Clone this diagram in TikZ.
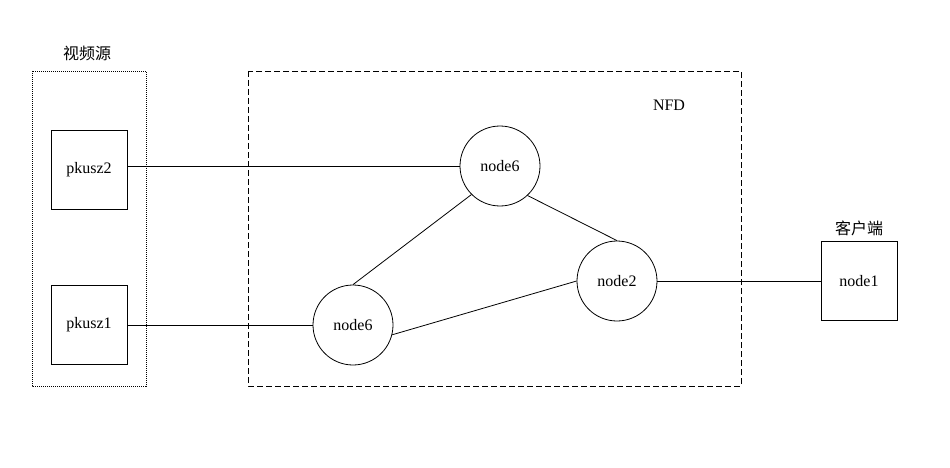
\documentclass[tikz,border=0pt]{standalone}
\usepackage{fontspec}
\setmainfont{Liberation Serif}
\newfontfamily\cjk{Noto Sans CJK SC}
\begin{document}
\begin{tikzpicture}[x=1pt,y=-1pt,
  every node/.style={font=\fontsize{16}{18}\selectfont},
  hostbox/.style={draw,line width=0.8pt,minimum width=76pt,minimum height=79pt,inner sep=0pt},
  router/.style={draw,circle,line width=0.8pt,minimum size=80pt,inner sep=0pt},
  link/.style={line width=0.8pt},
  grouplabel/.style={font=\cjk\fontsize{16}{18}\selectfont}]
\useasboundingbox (0,0) rectangle (950,468);

% group frames
\draw[line width=0.7pt,dash pattern=on 1pt off 1pt] (32,71) rectangle (146,386);
\draw[line width=0.8pt,dash pattern=on 6pt off 3pt] (248,71) rectangle (741,386);
\node[grouplabel] (srclabel) at (87,53) {视频源};
\node (nfdlabel) at (669,105) {NFD};
\node[grouplabel] (clientlabel) at (859,228) {客户端};

% hosts
\node[hostbox] (pk2) at (89,170) {pkusz2};
\node[hostbox] (pk1) at (89,325) {pkusz1};
\node[hostbox] (n1) at (859,281) {node1};

% routers
\node[router] (n6a) at (500,166) {node6};
\node[router] (n6b) at (353,325) {node6};
\node[router] (n2) at (617,281) {node2};

% links
\draw[link] (pk2.east |- n6a.west) -- (n6a.west);
\draw[link] (pk1.east) -- (n6b.west);
\draw[link] (n6a.-47) -- (n2.north);
\draw[link] (n6a.south west) -- (n6b.north);
\draw[link] (n6b.-14) -- (n2.west);
\draw[link] (n2.east) -- (n1.west);
\end{tikzpicture}
\end{document}
